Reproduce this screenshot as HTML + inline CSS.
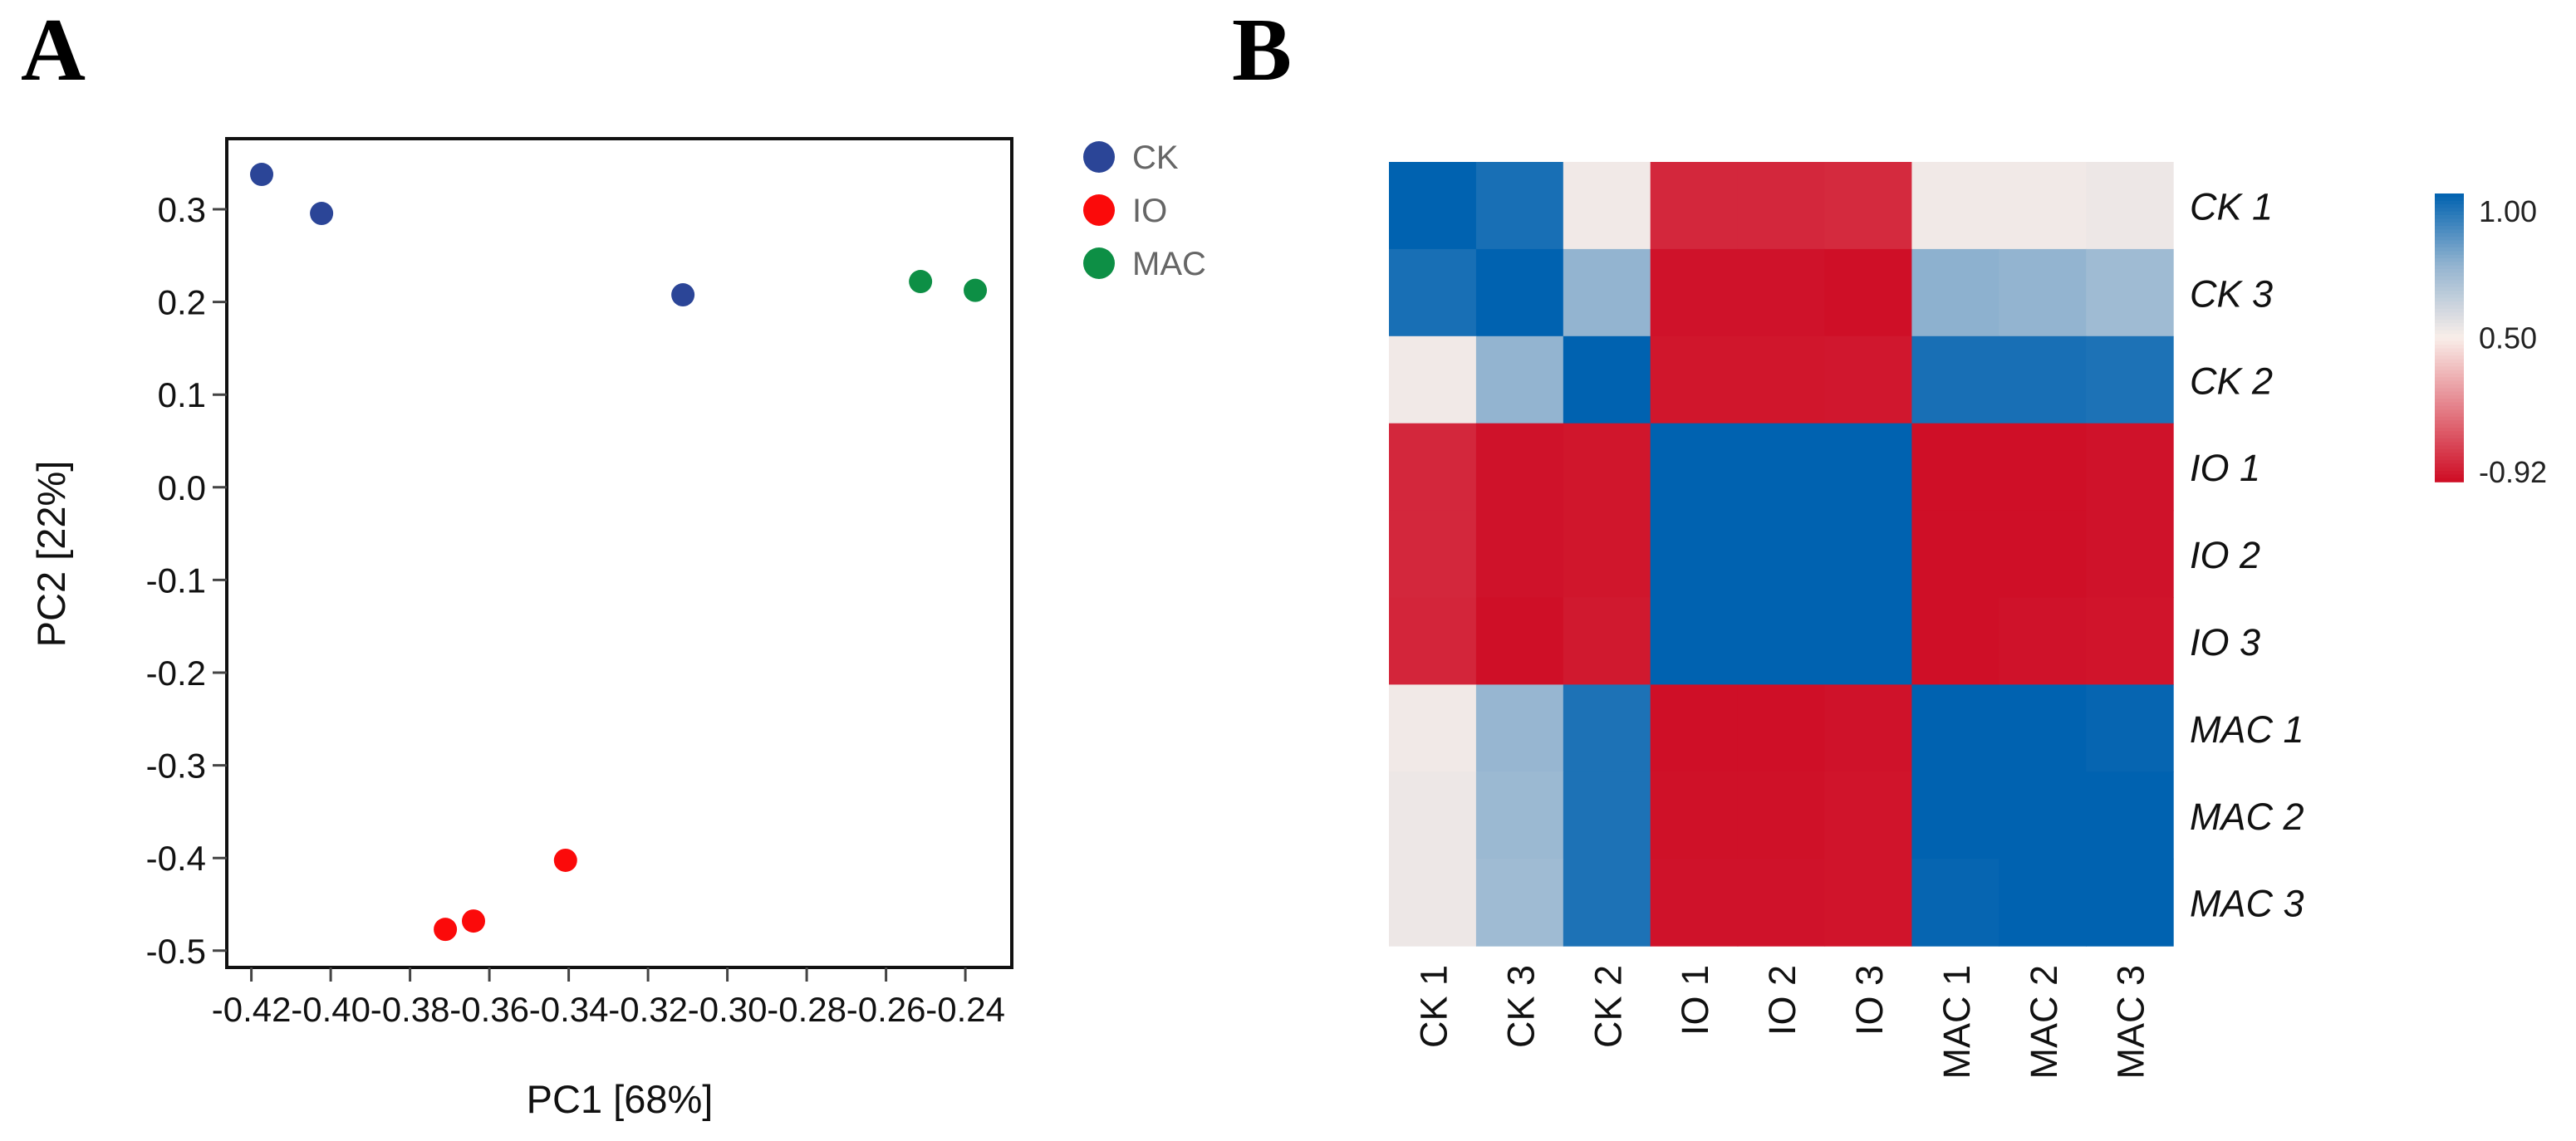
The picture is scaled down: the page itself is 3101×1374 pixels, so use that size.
<!DOCTYPE html>
<html><head><meta charset="utf-8"><style>
html,body{margin:0;padding:0;background:#fff}
svg{display:block}
text{font-family:"Liberation Sans",Arial,sans-serif}
</style></head><body>
<svg id="fig" width="3101" height="1374" viewBox="0 0 3101 1374" xmlns="http://www.w3.org/2000/svg">
<text x="25" y="96" font-weight="bold" font-size="108" style="font-family:'Liberation Serif',serif">A</text>
<text x="1483" y="96" font-weight="bold" font-size="108" style="font-family:'Liberation Serif',serif">B</text>
<g id="pca"></g>
<g id="heat"></g>
</svg>
<script>
// PCA data
const pcaGroups = ['CK','IO','MAC'];
const pcaColors = ['#2b4597','#fb0a0a','#0d8f45'];
const pcaX = [[-0.4174,-0.4023,-0.3112],[-0.3711,-0.364,-0.3408],[-0.2513,-0.2375]];
const pcaY = [[0.3376,0.2955,0.2077],[-0.477,-0.468,-0.4025],[0.222,0.2125]];
const xTicks = [-0.42,-0.40,-0.38,-0.36,-0.34,-0.32,-0.30,-0.28,-0.26,-0.24];
const yTicks = [0.3,0.2,0.1,0.0,-0.1,-0.2,-0.3,-0.4,-0.5];
// Heatmap data
const hmLabels = ['CK 1','CK 3','CK 2','IO 1','IO 2','IO 3','MAC 1','MAC 2','MAC 3'];
const hmValues = [
 [1,0.96,0.52,-0.75,-0.75,-0.73,0.52,0.52,0.53],
 [0.96,1,0.75,-0.88,-0.88,-0.9,0.76,0.75,0.72],
 [0.52,0.75,1,-0.86,-0.86,-0.85,0.96,0.96,0.95],
 [-0.75,-0.88,-0.86,1,1,1,-0.9,-0.9,-0.88],
 [-0.75,-0.88,-0.86,1,1,1,-0.9,-0.9,-0.88],
 [-0.76,-0.9,-0.84,1,1,1,-0.9,-0.88,-0.87],
 [0.52,0.74,0.95,-0.9,-0.9,-0.88,1,1,0.99],
 [0.53,0.73,0.95,-0.89,-0.89,-0.87,1,1,1],
 [0.53,0.72,0.95,-0.88,-0.88,-0.87,0.99,1,1]];
const cbTicks = [1.00,0.50,-0.92];

const NS='http://www.w3.org/2000/svg';
function mk(tag,attrs,parent){const e=document.createElementNS(NS,tag);for(const k in attrs)e.setAttribute(k,attrs[k]);parent.appendChild(e);return e;}

// PCA
const pca=document.getElementById('pca');
const bx0=273,bx1=1218,by0=167,by1=1165;
const sx=v=>302.6+(v+0.42)/0.02*95.5;
const sy=v=>252-(v-0.3)/0.1*111.6;
let r=mk('rect',{x:bx0,y:by0,width:bx1-bx0,height:by1-by0,fill:'none',stroke:'#111','stroke-width':4},pca);


xTicks.forEach(t=>{
 const x=sx(t);
 let l=mk('line',{x1:x,x2:x,y1:by1,y2:by1+17,stroke:'#444','stroke-width':3},pca);
 
 
 let tx=mk('text',{x:x,y:1230,'font-size':42,'text-anchor':'middle',fill:'#111'},pca);
 tx.textContent=t.toFixed(2);
 
 
});
yTicks.forEach(t=>{
 const y=sy(t);
 let l=mk('line',{x1:bx0-17,x2:bx0,y1:y,y2:y,stroke:'#444','stroke-width':3},pca);
 
 
 let tx=mk('text',{x:bx0-25,y:y+15,'font-size':42,'text-anchor':'end',fill:'#111'},pca);
 tx.textContent=t.toFixed(1);
 
 
});
let xt=mk('text',{x:746,y:1340,'font-size':47,'text-anchor':'middle',fill:'#111'},pca);
xt.textContent='PC1 [68%]';


let yt=mk('text',{x:0,y:0,'font-size':47,'text-anchor':'middle',fill:'#111',transform:'translate(78,667) rotate(-90)'},pca);
yt.textContent='PC2 [22%]';


pcaGroups.forEach((g,gi)=>{
 pcaX[gi].forEach((xv,i)=>{
  let c=mk('circle',{cx:sx(xv),cy:sy(pcaY[gi][i]),r:14,fill:pcaColors[gi]},pca);
  
  
 });
 let lc=mk('circle',{cx:1323,cy:189+gi*64,r:19,fill:pcaColors[gi]},pca);
 
 
 let lt=mk('text',{x:1363,y:203+gi*64,'font-size':40,fill:'#666'},pca);
 lt.textContent=g;
 
 
});

// Heatmap
const heat=document.getElementById('heat');
const hx0=1672,hy0=195,cw=104.9,ch=104.9;
const stops=[[-0.92,[206,12,36]],[0.5,[249,238,233]],[0.75,[147,180,208]],[1,[0,98,176]]];
function col(v){
 for(let i=0;i<stops.length-1;i++){
  const a=stops[i],b=stops[i+1];
  if(v<=b[0]||i==stops.length-2){
   let t=(v-a[0])/(b[0]-a[0]);t=Math.max(0,Math.min(1,t));
   const c=a[1].map((x,k)=>Math.round(x+(b[1][k]-x)*t));
   return 'rgb('+c.join(',')+')';
  }
 }
}
hmValues.forEach((row,ri)=>{
 row.forEach((v,ci)=>{
  let c=mk('rect',{x:hx0+ci*cw,y:hy0+ri*ch,width:cw+0.6,height:ch+0.6,fill:col(v)},heat);
  
  
 });
});
hmLabels.forEach((lab,i)=>{
 let t=mk('text',{x:2636,y:hy0+(i+0.5)*ch+17,'font-size':45,'font-style':'italic',fill:'#111'},heat);
 t.textContent=lab;
 
 
 const cx=hx0+(i+0.5)*cw+17;
 let c=mk('text',{x:0,y:0,'font-size':45,'text-anchor':'end',fill:'#111',transform:'translate('+cx+',1162) rotate(-90)'},heat);
 c.textContent=lab;
 
 
});
// colorbar: piecewise (top half 1.00->0.50, bottom half 0.50->-0.92)
const cbx=2931,cby0=233,cby1=580,cbw=35;
const cbMid=(cby0+cby1)/2;
function cs(v){
 if(v>=0.5) return cby0+(1-v)/(1-0.5)*(cbMid-cby0);
 return cbMid+(0.5-v)/(0.5+0.92)*(cby1-cbMid);
}
const N=80;
for(let i=0;i<N;i++){
 const y0=cby0+(cby1-cby0)*i/N, y1=cby0+(cby1-cby0)*(i+1)/N, ym=(y0+y1)/2;
 const v= ym<=cbMid ? 1-(ym-cby0)/(cbMid-cby0)*0.5 : 0.5-(ym-cbMid)/(cby1-cbMid)*1.42;
 let s=mk('rect',{x:cbx,y:y0,width:cbw,height:y1-y0+0.8,fill:col(v)},heat);
 
 
}
cbTicks.forEach((t,i)=>{
 const y=Math.min(Math.max(cs(t),254),568);
 let tx=mk('text',{x:2984,y:y+13,'font-size':36,fill:'#222'},heat);
 tx.textContent=t.toFixed(2);
 
 
});
</script>
</body></html>
